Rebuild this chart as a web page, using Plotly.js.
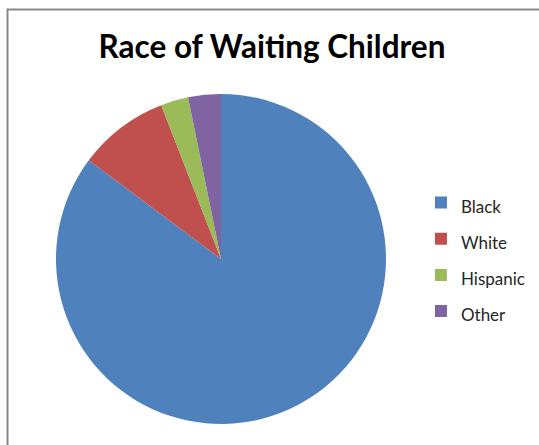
<!DOCTYPE html>
<html>
<head>
<meta charset="utf-8">
<script src="https://cdn.plot.ly/plotly-3.0.1.min.js"></script>
<style>html,body{margin:0;padding:0;background:#fff;}#chart{width:539px;height:445px;}</style>
</head>
<body>
<div id="chart"></div>
<script>
var categories = ["Black", "White", "Hispanic", "Other"];
var values = [85.2, 8.9, 2.7, 3.2];
var colors = ["#4F81BD", "#C0504D", "#9BBB59", "#8064A2"];
var chartTitle = "Race of Waiting Children";

var legendLabels = categories.map(function (c) {
  return '<span style="font-size:17px">' + c + '</span>';
});

var trace = {
  type: "pie",
  labels: legendLabels,
  values: values,
  sort: false,
  direction: "clockwise",
  rotation: 0,
  marker: { colors: colors, line: { width: 0 } },
  textinfo: "none",
  hoverinfo: "label+percent",
  domain: { x: [56 / 539, 386 / 539], y: [21 / 445, 351 / 445] }
};

var layout = {
  width: 539,
  height: 445,
  margin: { l: 0, r: 0, t: 0, b: 0, pad: 0 },
  paper_bgcolor: "#ffffff",
  plot_bgcolor: "#ffffff",
  font: { family: "Lato, 'Open Sans', sans-serif", color: "#262626" },
  title: {
    text: "<b>" + chartTitle + "</b>",
    font: { family: "Lato, 'Open Sans', sans-serif", size: 31.5, color: "#000000" },
    x: 272 / 539, xref: "container", xanchor: "center",
    y: 1 - 47 / 445, yref: "container", yanchor: "middle"
  },
  showlegend: true,
  legend: {
    x: 0.781, xanchor: "left",
    y: 1 - 179.5 / 445, yanchor: "top",
    font: { size: 25.5, color: "#262626", family: "Lato, 'Open Sans', sans-serif" },
    bgcolor: "rgba(0,0,0,0)",
    itemclick: false
  },
  shapes: [{
    type: "rect", xref: "paper", yref: "paper",
    x0: 7.5 / 539, x1: 1.2, y0: -0.2, y1: 1 - 9.5 / 445,
    line: { color: "#878787", width: 2 }, fillcolor: "rgba(0,0,0,0)", layer: "below"
  }]
};

Plotly.newPlot("chart", [trace], layout, { displayModeBar: false, staticPlot: true });
</script>
</body>
</html>
